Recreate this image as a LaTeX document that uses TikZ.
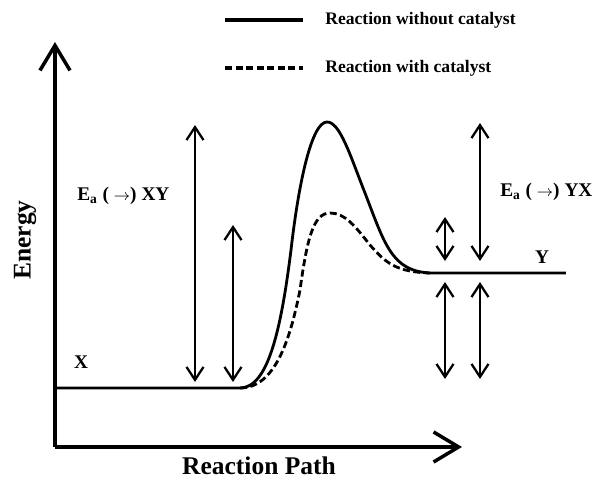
\documentclass[tikz,border=0pt]{standalone}
\usepackage{fontspec}
\setmainfont{Liberation Serif}
\usetikzlibrary{arrows.meta}

\begin{document}
\begin{tikzpicture}[x=0.02cm, y=-0.02cm,
    lbl/.style={font=\bfseries\fontsize{11}{13}\selectfont, inner sep=0pt},
    title/.style={font=\bfseries\fontsize{14.5}{16}\selectfont, inner sep=0pt},
    legend/.style={font=\bfseries\fontsize{10}{12}\selectfont, anchor=west, inner sep=0pt},
    axis/.style={line width=2pt, -{Straight Barb[length=5mm, width=6mm]}},
    dbl/.style={line width=1.3pt, {Straight Barb[length=2.6mm, width=3.4mm]}-{Straight Barb[length=2.6mm, width=3.4mm]}},
    nocat/.style={line width=1.6pt},
    cat/.style={line width=1.6pt, dash pattern=on 4pt off 2pt}]

\useasboundingbox (0,0) rectangle (600,480);

% axes
\coordinate (origin) at (55,447);
\coordinate (ytip) at (55,42);
\coordinate (xtip) at (462,447);
\draw[axis] (origin) -- (ytip);
\draw[axis] (origin) -- (xtip);
\node[title, rotate=90] (energy) at (25,240) {Energy};
\node[title, anchor=base] (path) at (259,475) {Reaction Path};

% legend
\coordinate (l1a) at (225,20);
\coordinate (l1b) at (303,20);
\coordinate (l2a) at (225,68);
\coordinate (l2b) at (303,68);
\draw[nocat, line width=2pt] (l1a) -- (l1b);
\draw[cat, line width=2pt] (l2a) -- (l2b);
\node[legend] (leg1) at (325,20) {Reaction without catalyst};
\node[legend] (leg2) at (325,68) {Reaction with catalyst};

% energy levels
\coordinate (xstart) at (55,388);
\coordinate (xend) at (240,388);
\coordinate (ystart) at (430,273);
\coordinate (yend) at (566,273);
\node[lbl] (X) at (81,362) {X};
\node[lbl] (Y) at (542,257) {Y};

% curves
\draw[nocat] (xstart) -- (xend)
    .. controls (268,388) and (281,330) .. (291,250)
    .. controls (299,180) and (312,122) .. (327,122)
    .. controls (340,122) and (350,155) .. (365,193)
    .. controls (385,245) and (392,271) .. (ystart) -- (yend);
\draw[cat] (xend)
    .. controls (275,388) and (290,340) .. (300,290)
    .. controls (307,240) and (313,213) .. (330,213)
    .. controls (345,213) and (355,226) .. (370,245)
    .. controls (385,262) and (395,272) .. (ystart);

% activation energies
\coordinate (a1t) at (195,125);
\coordinate (a1b) at (195,382);
\coordinate (a2t) at (233,225);
\coordinate (a2b) at (233,382);
\coordinate (b1t) at (480,123);
\coordinate (b1b) at (480,261);
\coordinate (b2t) at (445,217);
\coordinate (b2b) at (445,261);
\coordinate (c1t) at (445,282);
\coordinate (c1b) at (445,379);
\coordinate (c2t) at (480,282);
\coordinate (c2b) at (480,379);
\draw[dbl] (a1t) -- (a1b);
\draw[dbl] (a2t) -- (a2b);
\draw[dbl] (b1t) -- (b1b);
\draw[dbl] (b2t) -- (b2b);
\draw[dbl] (c1t) -- (c1b);
\draw[dbl] (c2t) -- (c2b);
\node[lbl, anchor=west] (eaxy) at (77,196) {E\textsubscript{a} ( {\small$\rightarrow$}) XY};
\node[lbl, anchor=west] (eayx) at (500,192) {E\textsubscript{a} ( {\small$\rightarrow$}) YX};

\end{tikzpicture}
\end{document}
